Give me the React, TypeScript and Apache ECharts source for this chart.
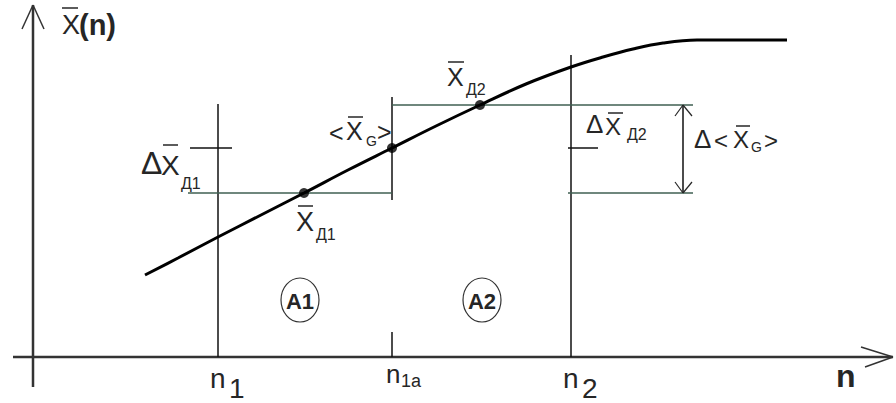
import React, { useEffect, useRef } from "react";
import * as echarts from "echarts";

// ---- data (diagram units) ----
const curveN = [11.2, 14.5, 18.5, 22.8, 27.1, 31.5, 35.9, 40.3, 44.7, 49.3, 53.8, 57.0, 60.0, 63.0, 66.4, 70.0, 75.4];
const curveX = [8.2, 9.9, 12.0, 14.2, 16.4, 18.7, 20.9, 23.1, 25.2, 27.3, 29.0, 30.0, 30.8, 31.4, 31.7, 31.7, 31.7];

const pointN = [27.1, 35.9, 44.7]; // x̄A1, <x̄G>, x̄A2
const pointX = [16.4, 20.9, 25.2];

const tickN = [18.5, 35.9, 53.8];
const tickTop = [25.3, 2.5, 30.2];
const tickMain = ["n", "n", "n"];
const tickSub = ["1", "1a", "2"];

const regionN = [26.7, 44.9];
const regionLevel = 5.7;
const regionLabels = ["A1", "A2"];

const meanLineA1 = [[15.5, 16.4], [35.9, 16.4]];
const boxTopA2 = [[35.9, 25.2], [66.0, 25.2]];
const boxBottomA2 = [[53.5, 16.4], [66.0, 16.4]];
const boxSideG = [[35.9, 15.7], [35.9, 26.0]];
const tickDeltaA1 = [[15.7, 20.9], [19.9, 20.9]];
const tickDeltaA2 = [[53.5, 20.9], [56.5, 20.9]];
const deltaArrow = [[65.0, 16.4], [65.0, 25.2]];
const xAxisLine = [[-2.0, 0], [86.0, 0]];
const yAxisLine = [[0, -3.0], [0, 35.2]];

const xRange = [-3.3, 86.3];
const yRange = [-4.6, 35.7];

const INK = "#262626";
const GREEN = "#3f5f52";
const FONT = '"Liberation Sans", Arial, sans-serif';

function seg(data: number[][], color: string, width: number, z = 2) {
  return {
    type: "line",
    data,
    symbol: "none",
    silent: true,
    clip: false,
    z,
    lineStyle: { color, width },
  };
}

export default function App() {
  const ref = useRef<HTMLDivElement>(null);
  useEffect(() => {
    if (!ref.current) return;
    const chart = echarts.init(ref.current, null, { renderer: "svg" });
    const series: any[] = [
      seg(xAxisLine, "#333", 2.5),
      seg(yAxisLine, "#333", 2.5),
      ...tickN.map((n, i) => seg([[n, 0], [n, tickTop[i]]], "#111", 1.5)),
      seg(boxSideG, "#111", 1.5),
      seg(meanLineA1, GREEN, 1.5),
      seg(boxTopA2, GREEN, 1.5),
      seg(boxBottomA2, GREEN, 1.5),
      seg(tickDeltaA1, "#111", 1.5),
      seg(tickDeltaA2, "#111", 1.5),
      seg(deltaArrow, "#111", 1.5),
      {
        type: "line",
        data: curveN.map((n, i) => [n, curveX[i]]),
        smooth: 0.4,
        symbol: "none",
        silent: true,
        clip: false,
        z: 5,
        lineStyle: { color: "#000", width: 3 },
      },
      {
        type: "scatter",
        data: pointN.map((n, i) => [n, pointX[i]]),
        symbolSize: 10,
        silent: true,
        z: 6,
        itemStyle: { color: "#000" },
      },
    ];
    chart.setOption({
      animation: false,
      grid: { left: 0, right: 0, top: 0, bottom: 0 },
      xAxis: { type: "value", min: xRange[0], max: xRange[1], show: false },
      yAxis: { type: "value", min: yRange[0], max: yRange[1], show: false },
      series,
    });

    const P = (d: number[]) => chart.convertToPixel({ gridIndex: 0 }, d) as number[];
    const g: any[] = [];
    const T = (x: number, y: number, text: string, size: number, extra: any = {}) =>
      g.push({
        type: "text",
        x,
        y,
        silent: true,
        z: 10,
        style: {
          text,
          fontSize: size,
          fontFamily: FONT,
          fill: INK,
          align: "left",
          verticalAlign: "middle",
          ...extra,
        },
      });
    const L = (x1: number, y1: number, x2: number, y2: number, w = 1.5, c = INK) =>
      g.push({ type: "line", silent: true, z: 10, shape: { x1, y1, x2, y2 }, style: { stroke: c, lineWidth: w } });

    // y axis title and arrow
    const yt = P(yAxisLine[1]);
    L(yt[0], yt[1], yt[0] - 11, yt[1] + 24, 1.5, "#333");
    L(yt[0], yt[1], yt[0] + 11, yt[1] + 24, 1.5, "#333");
    T(yt[0] + 29, yt[1] + 20, "X", 27);
    L(yt[0] + 29, yt[1] + 3, yt[0] + 45, yt[1] + 3);
    T(yt[0] + 46, yt[1] + 20, "(n)", 29, { fontWeight: "bold" });

    // x axis arrow and title
    const xe = P(xAxisLine[1]);
    L(xe[0], xe[1], xe[0] - 32, xe[1] - 10, 1.5, "#333");
    L(xe[0], xe[1], xe[0] - 28, xe[1] + 10, 1.5, "#333");
    T(xe[0] - 57, xe[1] + 19, "n", 32, { fontWeight: "bold" });

    // tick labels
    tickN.forEach((n, i) => {
      const p = P([n, 0]);
      if (tickSub[i] === "1a") {
        T(p[0] - 6, p[1] + 17, tickMain[i], 26);
        T(p[0] + 9, p[1] + 24, tickSub[i], 18);
      } else {
        T(p[0] - 8, p[1] + 21, tickMain[i], 28);
        T(p[0] + 11, p[1] + 31, tickSub[i], 28);
      }
    });

    // Δx̄A1
    const a = P(tickDeltaA1[0]);
    T(a[0] - 49, a[1] + 15, "Δ", 32);
    T(a[0] - 29, a[1] + 17, "X", 28);
    L(a[0] - 27, a[1] - 3, a[0] - 12, a[1] - 3);
    T(a[0] - 9, a[1] + 35, "Д1", 16);

    // x̄A1 under the dot
    const d = P([pointN[0], pointX[0]]);
    T(d[0] - 8, d[1] + 29, "X", 27);
    L(d[0] - 6, d[1] + 13, d[0] + 9, d[1] + 13);
    T(d[0] + 12, d[1] + 41, "Д1", 16);

    // <x̄G>
    const gp = P([pointN[1], pointX[1]]);
    T(gp[0] - 63, gp[1] - 15, "<", 25);
    T(gp[0] - 46, gp[1] - 17, "X", 25);
    L(gp[0] - 44, gp[1] - 31, gp[0] - 29, gp[1] - 31);
    T(gp[0] - 26, gp[1] - 7, "G", 14);
    T(gp[0] - 15, gp[1] - 16, ">", 25);

    // x̄A2
    const h = P([pointN[2], pointX[2]]);
    T(h[0] - 33, h[1] - 28, "X", 25);
    L(h[0] - 32, h[1] - 43, h[0] - 16, h[1] - 43);
    T(h[0] - 14, h[1] - 16, "Д2", 16);

    // Δx̄A2
    const k = P(tickDeltaA2[0]);
    T(k[0] + 18, k[1] - 24, "Δ", 26);
    T(k[0] + 37, k[1] - 22, "X", 24);
    L(k[0] + 40, k[1] - 35, k[0] + 55, k[1] - 35);
    T(k[0] + 59, k[1] - 14, "Д2", 16);

    // double arrow and Δ<x̄G>
    const m = P(deltaArrow[0]);
    const t = P(deltaArrow[1]);
    L(t[0], t[1], t[0] - 8, t[1] + 11, 1.2);
    L(t[0], t[1], t[0] + 9, t[1] + 11, 1.2);
    L(m[0], m[1], m[0] - 8, m[1] - 11, 1.2);
    L(m[0], m[1], m[0] + 9, m[1] - 11, 1.2);
    T(m[0] + 11, m[1] - 54, "Δ", 26);
    T(m[0] + 31, m[1] - 53, "<", 24);
    T(m[0] + 50, m[1] - 54, "X", 24);
    L(m[0] + 53, m[1] - 67, m[0] + 67, m[1] - 67);
    T(m[0] + 68, m[1] - 46, "G", 14);
    T(m[0] + 81, m[1] - 53, ">", 24);

    // regions
    regionN.forEach((n, i) => {
      const r = P([n, regionLevel]);
      g.push({
        type: "ellipse",
        silent: true,
        z: 10,
        shape: { cx: r[0], cy: r[1], rx: 19, ry: 22 },
        style: { fill: "none", stroke: "#333", lineWidth: 1.2 },
      });
      T(r[0], r[1] + 1, regionLabels[i], 22, { fontWeight: "bold", align: "center" });
    });

    chart.setOption({ graphic: g });
    return () => chart.dispose();
  }, []);
  return (
    <div
      ref={ref}
      style={{ position: "fixed", left: 0, top: 0, width: 896, height: 403, background: "#fff" }}
    />
  );
}
